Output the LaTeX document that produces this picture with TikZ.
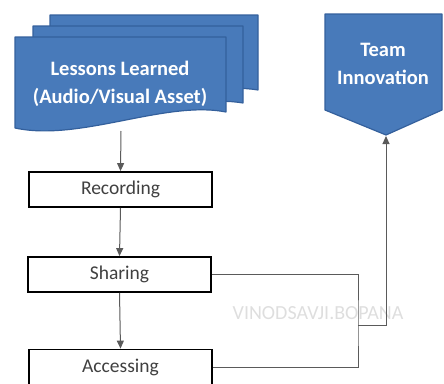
\documentclass[tikz,border=0pt]{standalone}
\usepackage{fontspec}
\setmainfont{Carlito}
\usetikzlibrary{arrows.meta}
\definecolor{docblue}{RGB}{72,122,186}
\definecolor{docedge}{RGB}{52,96,156}
\definecolor{wire}{RGB}{90,90,90}
\definecolor{wmark}{RGB}{222,222,222}
\begin{document}
\begin{tikzpicture}[x=1pt,y=-1pt,
  blueshape/.style={fill=docblue,draw=docedge,line width=1.2pt,line join=round},
  stepbox/.style={draw=black,line width=1.8pt,fill=white,minimum width=183pt,minimum height=35pt,inner sep=0pt,font=\fontsize{19.5}{22}\selectfont,text=black!75},
  bluetext/.style={text=white,font=\bfseries\fontsize{20.5}{27.5}\selectfont,align=center},
  flow/.style={draw=wire,line width=1pt,-{Triangle[length=8pt,width=7pt]}},
  link/.style={draw=wire,line width=1pt}]
\useasboundingbox (0,0) rectangle (444,383);

% stacked documents (back to front)
\path[blueshape] (50,15) -- (258,15) -- (258,90)
  .. controls (200,80) and (110,118) .. (50,106) -- cycle;
\path[blueshape] (33,26) -- (243,26) -- (243,103)
  .. controls (185,93) and (95,130) .. (33,117) -- cycle;
\path[blueshape] (15,37) -- (226,37) -- (226,112)
  .. controls (165,100) and (80,142) .. (15,128) -- cycle;
\node[bluetext] (lessons) at (120,84) {Lessons Learned\\(Audio/Visual Asset)};
\coordinate (lessonsout) at (121,131);

% off-page connector
\path[blueshape] (325,14) -- (442,14) -- (442,110) -- (386,135) -- (325,110) -- cycle;
\node[bluetext] (team) at (383,64) {Team\\Innovation};
\coordinate (teamin) at (386,136);

% process steps
\node[stepbox] (rec) at (120.5,189.5) {Recording};
\node[stepbox] (sha) at (119.5,274.5) {Sharing};
\node[stepbox] (acc) at (120.5,367) {Accessing};

% watermark
\node[text=wmark,font=\fontsize{20}{22}\selectfont] (wm) at (318,313) {VINODSAVJI.BOPANA};

% connectors
\draw[flow] (lessonsout) -- (rec.north);
\draw[flow] (rec.south) -- (sha.north);
\draw[flow] (sha.south) -- (acc.north);
\coordinate (bus) at (358,325);
\draw[link] (sha.east) -| (bus) |- (acc.east);
\draw[flow] (bus) -| (teamin);
\end{tikzpicture}
\end{document}
